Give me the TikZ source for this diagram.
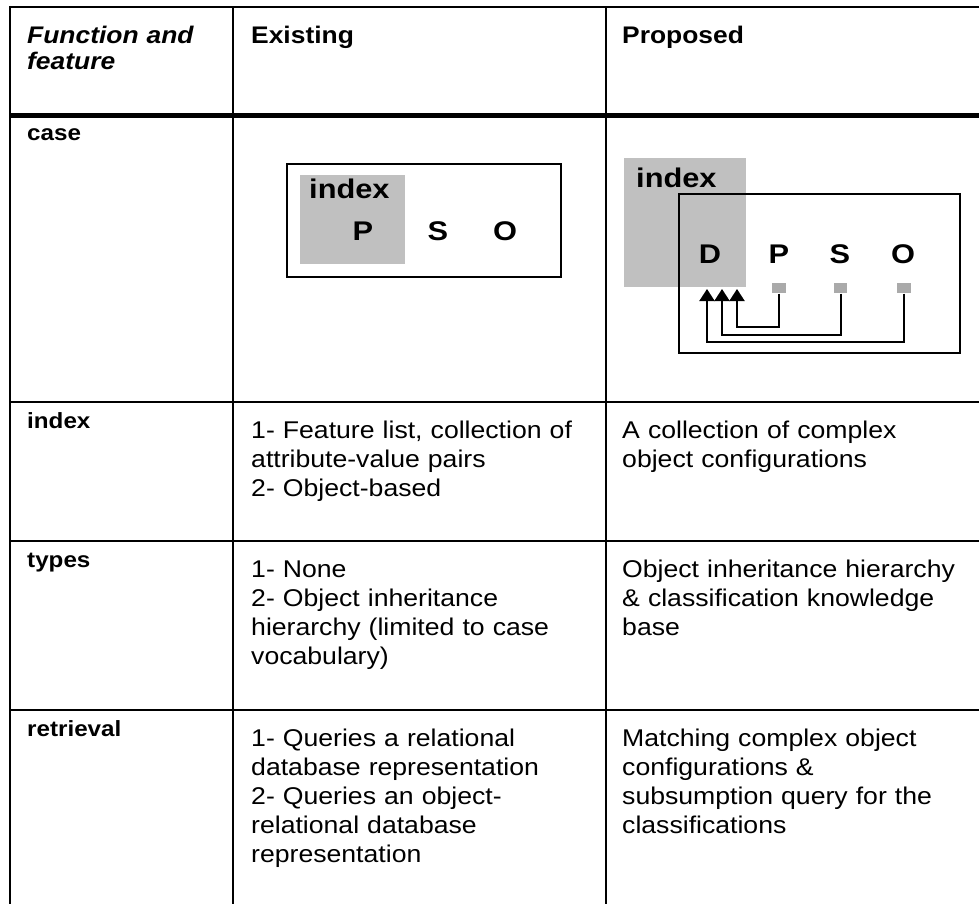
\documentclass[tikz,border=0pt]{standalone}
\usepackage{fontspec}
\setmainfont[FakeStretch=1.1]{Liberation Sans}
\newfontfamily\diagfont[FakeStretch=1.14]{Liberation Sans}
\usetikzlibrary{arrows.meta}

\definecolor{idxgray}{RGB}{192,192,192}
\definecolor{portgray}{RGB}{170,170,170}

\begin{document}
\begin{tikzpicture}[x=1pt,y=-1pt,
  rule/.style={line width=2pt},
  headrule/.style={line width=4.5pt},
  cell/.style={anchor=base west, inner sep=0pt, align=left, text width=340pt,
    font=\fontsize{24.2}{29}\selectfont},
  headcell/.style={cell, font=\fontsize{24}{27}\selectfont\bfseries},
  rowlabel/.style={cell, text width=200pt, font=\fontsize{22}{25}\selectfont\bfseries},
  letter/.style={anchor=base, inner sep=0pt, font=\diagfont\fontsize{27}{30}\selectfont\bfseries},
  idxtext/.style={anchor=base west, inner sep=0pt, font=\diagfont\fontsize{27}{30}\selectfont\bfseries},
  frame/.style={draw, line width=2pt},
  idxarea/.style={fill=idxgray},
  port/.style={fill=portgray, minimum width=13.3pt, minimum height=10.7pt, inner sep=0pt},
  link/.style={line width=2pt, -{Triangle[length=12pt 0 0,width=15pt 0 0]}}
]
\useasboundingbox (0,0) rectangle (979,904);
\clip (0,0) rectangle (979,904);

% table rules
\draw[rule] (9,7) -- (1000,7);
\draw[rule] (10,6) -- (10,920);
\draw[rule] (233,7) -- (233,920);
\draw[rule] (606,7) -- (606,920);
\draw[headrule] (9,115.5) -- (1000,115.5);
\draw[rule] (9,402) -- (1000,402);
\draw[rule] (9,541) -- (1000,541);
\draw[rule] (9,710) -- (1000,710);

% header row
\node[headcell, font=\fontsize{24}{26}\selectfont\bfseries\itshape] (hfunc) at (27,44) {Function and\\feature};
\node[headcell] (hexist) at (251,44) {Existing};
\node[headcell] (hprop) at (622,44) {Proposed};

% row labels
\node[rowlabel] (lcase) at (27,141) {case};
\node[rowlabel] (lindex) at (27,428) {index};
\node[rowlabel] (ltypes) at (27,567) {types};
\node[rowlabel] (lretr) at (27,736) {retrieval};

% cell texts
\node[cell] (eindex) at (251,438) {1- Feature list, collection of\\attribute-value pairs\\2- Object-based};
\node[cell] (pindex) at (622,438) {A collection of complex\\object configurations};
\node[cell] (etypes) at (251,577) {1- None\\2- Object inheritance\\hierarchy (limited to case\\vocabulary)};
\node[cell] (ptypes) at (622,577) {Object inheritance hierarchy\\\& classification knowledge\\base};
\node[cell] (eretr) at (251,746) {1- Queries a relational\\database representation\\2- Queries an object-\\relational database\\representation};
\node[cell] (pretr) at (622,746) {Matching complex object\\configurations \&\\subsumption query for the\\classifications};

% existing case: P indexed inside the triple
\draw[frame] (287,164) rectangle (561,277);
\fill[idxarea] (300,175) rectangle (405,264);
\node[idxtext] (eidx) at (309,198) {index};
\node[letter] (eP) at (363,240) {P};
\node[letter] (eS) at (438,240) {S};
\node[letter] (eO) at (505,240) {O};

% proposed case: D indexed, P S O pointing back to D
\fill[idxarea] (624,158) rectangle (746,287);
\node[idxtext] (pidx) at (636,187) {index};
\draw[frame] (679,194) rectangle (960,353);
\node[letter] (pD) at (710,263) {D};
\node[letter] (pP) at (779,263) {P};
\node[letter] (pS) at (840,263) {S};
\node[letter] (pO) at (903,263) {O};
\node[port] (qP) at (779,288) {};
\node[port] (qS) at (840.5,288) {};
\node[port] (qO) at (904,288) {};
\coordinate (tO) at (707,289);
\coordinate (tS) at (722,289);
\coordinate (tP) at (737,289);
\draw[link] (qP.south) -- ++(0,33) -| (tP);
\draw[link] (qS.south) -- ++(0,41) -| (tS);
\draw[link] (qO.south) -- ++(0,48) -| (tO);
\end{tikzpicture}
\end{document}
